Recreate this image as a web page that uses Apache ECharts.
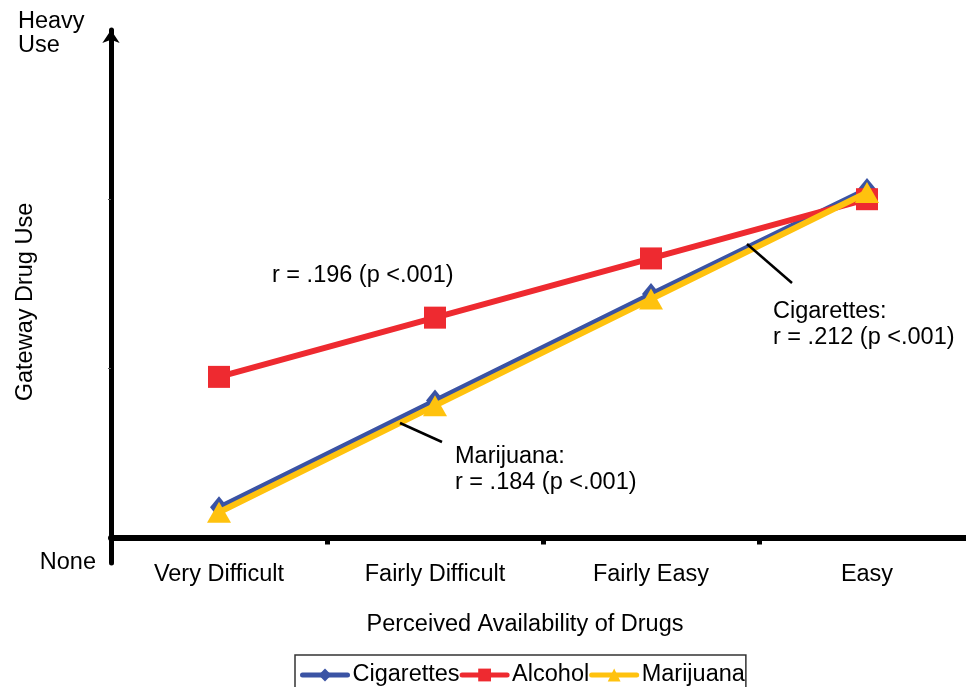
<!DOCTYPE html>
<html><head><meta charset="utf-8">
<script src="https://cdn.jsdelivr.net/npm/echarts@6/dist/echarts.min.js"></script>
<style>html,body{margin:0;padding:0;background:#fff;overflow:hidden;width:966px;height:687px}#c{width:980px;height:687px}</style>
</head><body><div id="c"></div>
<script>
const categories = ['Very Difficult', 'Fairly Difficult', 'Fairly Easy', 'Easy'];
const seriesNames = ['Cigarettes', 'Alcohol', 'Marijuana'];
const cigarettes = [0.18, 0.81, 1.44, 2.06];
const alcohol = [0.95, 1.30, 1.65, 2.00];
const marijuana = [0.15, 0.78, 1.41, 2.04];
const yTickValues = [1, 2];
const yBottom = -0.15;
const yTop = 3;
const yEndLabels = ['None', 'Heavy\nUse'];
const xTitle = 'Perceived Availability of Drugs';
const yTitle = 'Gateway Drug Use';
const noteAlcohol = 'r = .196 (p <.001)';
const noteCigarettes = 'Cigarettes:\nr = .212 (p <.001)';
const noteMarijuana = 'Marijuana:\nr = .184 (p <.001)';

const FONT = '"Liberation Sans", Arial, sans-serif';
const FS = 23.5;
const chart = echarts.init(document.getElementById('c'));
const txt = (x, y, text, lh) => ({
  type: 'text', x: x, y: y, z: 100,
  style: { text: text, fill: '#000', font: FS + 'px ' + FONT, lineHeight: lh, verticalAlign: 'top', align: 'left' }
});
const seg = (x1, y1, x2, y2) => ({
  type: 'line', z: 100, shape: { x1: x1, y1: y1, x2: x2, y2: y2 },
  style: { stroke: '#000', lineWidth: 2.5 }
});

const option = {
  animation: false,
  backgroundColor: '#fff',
  textStyle: { fontFamily: FONT },
  grid: { left: 111, top: 30, width: 864, height: 533, containLabel: false, outerBoundsMode: 'none' },
  legend: {
    data: seriesNames, top: 655, left: 295,
    itemWidth: 45, itemHeight: 16, itemGap: 0,
    padding: [8, 1, 8, 5],
    borderColor: '#333', borderWidth: 1.5,
    lineStyle: { width: 5, cap: 'round' },
    textStyle: { fontSize: FS, color: '#000', fontFamily: FONT }
  },
  xAxis: {
    type: 'category', data: categories, boundaryGap: true,
    name: xTitle, nameLocation: 'middle', nameGap: 50, nameMoveOverlap: false,
    nameTextStyle: { fontSize: FS, color: '#000', fontFamily: FONT, padding: [0, 36, 0, 0] },
    axisLine: { onZero: true, lineStyle: { color: '#000', width: 6 } },
    axisTick: { show: true, length: 7, lineStyle: { color: '#000', width: 5 } },
    axisLabel: { margin: 0, fontSize: FS, color: '#000', fontFamily: FONT },
    splitLine: { show: false }
  },
  yAxis: {
    type: 'value', min: yBottom, max: yTop,
    name: yTitle, nameLocation: 'middle', nameGap: 73, nameMoveOverlap: false,
    nameTextStyle: { fontSize: FS, color: '#000', fontFamily: FONT, padding: [0, 11, 0, 0] },
    axisLine: { show: true, lineStyle: { color: '#000', width: 5 }, symbol: ['none', 'arrow'], symbolSize: [13, 13] },
    axisTick: { show: true, customValues: yTickValues, length: 3, lineStyle: { color: '#555', width: 1 } },
    axisLabel: {
      customValues: [yBottom], showMinLabel: true, margin: 15,
      formatter: () => yEndLabels[0],
      fontSize: FS, color: '#000', fontFamily: FONT
    },
    splitLine: { show: false }
  },
  series: [
    {
      name: seriesNames[0], type: 'line', data: cigarettes,
      symbol: 'diamond', symbolSize: [18, 22],
      lineStyle: { color: '#3A53A4', width: 5 }, itemStyle: { color: '#3A53A4' },
      emphasis: { disabled: true }, z: 2
    },
    {
      name: seriesNames[1], type: 'line', data: alcohol,
      symbol: 'rect', symbolSize: 22,
      lineStyle: { color: '#EE2A30', width: 6 }, itemStyle: { color: '#EE2A30' },
      emphasis: { disabled: true }, z: 3
    },
    {
      name: seriesNames[2], type: 'line', data: marijuana,
      symbol: 'triangle', symbolSize: [24, 21],
      lineStyle: { color: '#FFC20E', width: 6 }, itemStyle: { color: '#FFC20E' },
      emphasis: { disabled: true }, z: 4
    }
  ],
  graphic: [
    txt(18, 10, yEndLabels[1], 24),
    txt(272, 263, noteAlcohol, 26),
    txt(773, 299, noteCigarettes, 26),
    txt(455, 444, noteMarijuana, 26),
    seg(747, 244, 792, 283),
    seg(400, 423, 442, 442)
  ]
};
chart.setOption(option);
</script>
</body></html>
